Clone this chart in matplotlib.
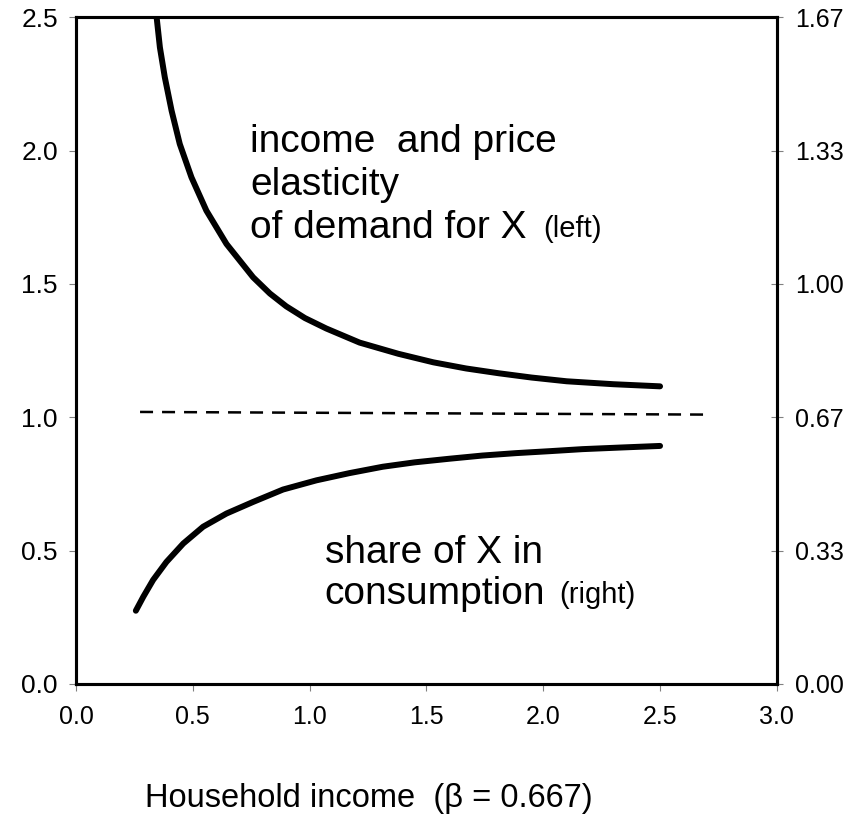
import matplotlib
matplotlib.use("Agg")
import matplotlib.pyplot as plt

plt.rcParams['font.family'] = ['Liberation Sans', 'DejaVu Sans']

# elasticity of demand (left axis)
elast_x = [0.345, 0.359, 0.380, 0.409, 0.444, 0.494, 0.558, 0.644, 0.758, 0.830, 0.900, 0.980, 1.071, 1.214,
           1.38, 1.53, 1.67, 1.81, 1.95, 2.10, 2.30, 2.50]
elast_y = [2.50, 2.387, 2.275, 2.150, 2.025, 1.900, 1.775, 1.650, 1.525, 1.464, 1.416, 1.372, 1.333, 1.280,
           1.238, 1.206, 1.183, 1.165, 1.149, 1.135, 1.124, 1.116]

# share of X in consumption (right axis)
share_x = [0.256, 0.288, 0.330, 0.387, 0.459, 0.544, 0.644, 0.758, 0.886, 1.029, 1.17, 1.313,
           1.45, 1.598, 1.74, 1.883, 2.03, 2.168, 2.33, 2.50]
share_y = [0.183, 0.218, 0.260, 0.305, 0.351, 0.393, 0.426, 0.455, 0.486, 0.509, 0.527, 0.543,
           0.554, 0.563, 0.571, 0.577, 0.582, 0.587, 0.591, 0.595]

# dashed reference line (left axis)
ref_x = [0.274, 2.71]
ref_y = [1.02, 1.01]

left_ticks = [0.0, 0.5, 1.0, 1.5, 2.0, 2.5]
right_ticks = [0, 1/3, 2/3, 1, 4/3, 5/3]
right_labels = ["0.00", "0.33", "0.67", "1.00", "1.33", "1.67"]
x_ticks = [0.0, 0.5, 1.0, 1.5, 2.0, 2.5, 3.0]

fig = plt.figure(figsize=(8.68, 8.24), dpi=100)
ax = fig.add_axes([0.0876, 0.170, 0.8074, 0.809])
ax2 = ax.twinx()

ax.plot(elast_x, elast_y, color="black", lw=4.3, solid_capstyle="round", solid_joinstyle="round")
ax.plot(ref_x, ref_y, color="black", lw=1.8, dashes=(5.2, 3.6))
ax2.plot(share_x, share_y, color="black", lw=4.3, solid_capstyle="round", solid_joinstyle="round")

ax.set_xlim(0, 3)
ax.set_ylim(0, 2.5)
ax2.set_ylim(0, 5/3)

ax.set_xticks(x_ticks)
ax.set_xticklabels(["%.1f" % v for v in x_ticks])
ax.set_yticks(left_ticks)
ax.set_yticklabels(["%.1f" % v for v in left_ticks])
ax2.set_yticks(right_ticks)
ax2.set_yticklabels(right_labels)

for a in (ax, ax2):
    for s in a.spines.values():
        s.set_linewidth(2.2)
ax.tick_params(axis="y", direction="out", length=5, width=0.8, color="grey", labelsize=19, pad=8)
ax.tick_params(axis="x", direction="out", length=5, width=0.8, color="grey", labelsize=18, pad=10)
ax2.tick_params(axis="y", direction="inout", length=8, width=0.8, color="grey", labelsize=18, pad=9)

# annotations
ax.text(0.745, 1.993, "income  and price", fontsize=28, va="baseline")
ax.text(0.745, 1.835, "elasticity", fontsize=28, va="baseline")
t1 = ax.text(0.745, 1.674, "of demand for X", fontsize=28, va="baseline")
ax.annotate("(left)", xy=(1, 0), xycoords=t1, xytext=(12, 2), textcoords="offset points",
            fontsize=21, va="bottom")

ax.text(1.064, 0.454, "share of X in", fontsize=28, va="baseline")
t2 = ax.text(1.064, 0.300, "consumption", fontsize=28, va="baseline")
ax.annotate("(right)", xy=(1, 0), xycoords=t2, xytext=(10, 2), textcoords="offset points",
            fontsize=21, va="bottom")

fig.text(0.425, 0.0206, "Household income  (\u03b2 = 0.667)", fontsize=23.5, ha="center", va="baseline")

fig.savefig("out.png", dpi=100)
